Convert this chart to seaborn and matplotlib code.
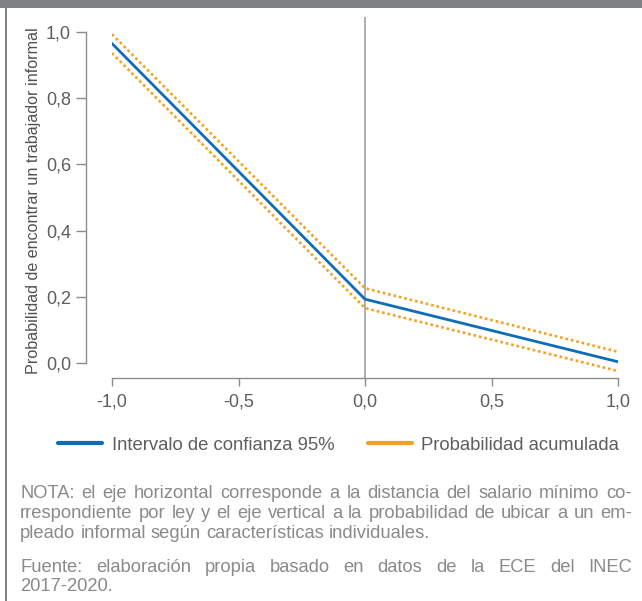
import numpy as np
import pandas as pd
import seaborn as sns
import matplotlib.pyplot as plt
from matplotlib.lines import Line2D
from matplotlib.patches import Rectangle

# data
x_vals = [-1.0, 0.0, 1.0]
prob_acum = [0.965, 0.193, 0.004]
ic_sup = [0.993, 0.226, 0.034]
ic_inf = [0.936, 0.166, -0.024]

x_ticks = [-1.0, -0.5, 0.0, 0.5, 1.0]
x_ticklabels = ["-1,0", "-0,5", "0,0", "0,5", "1,0"]
y_ticks = [0.0, 0.2, 0.4, 0.6, 0.8, 1.0]
y_ticklabels = ["0,0", "0,2", "0,4", "0,6", "0,8", "1,0"]

legend_labels = ["Intervalo de confianza 95%", "Probabilidad acumulada"]
ylabel = "Probabilidad de encontrar un trabajador informal"
nota = [
    "NOTA: el eje horizontal corresponde a la distancia del salario mínimo co-",
    "rrespondiente por ley y el eje vertical a la probabilidad de ubicar a un em-",
    "pleado informal según características individuales.",
]
fuente = [
    "Fuente: elaboración propia basado en datos de la ECE del INEC",
    "2017-2020.",
]

df = pd.DataFrame({"x": x_vals, "prob": prob_acum, "sup": ic_sup, "inf": ic_inf})

sns.set_theme(style="white")
plt.rcParams["font.family"] = ["Liberation Sans", "DejaVu Sans"]

BLUE = "#0f6cb6"
ORANGE = "#f8a01c"
GRAY = "#808285"
TXT = "#5e5e5e"

W, H = 642, 601
fig = plt.figure(figsize=(W / 100, H / 100), dpi=100)
fig.patch.set_facecolor("white")

# frame decoration: top bar + left rule
fig.add_artist(Rectangle((0, 1 - 8 / H), 1, 8 / H, transform=fig.transFigure,
                         color=GRAY, lw=0))
fig.add_artist(Rectangle((5 / W, 0), 2 / W, 1, transform=fig.transFigure,
                         color=GRAY, lw=0))

ax = fig.add_axes([112 / W, (H - 378) / H, 506 / W, 361 / H])
ax.set_facecolor("white")

ax.axvline(0, color="#a8a8a8", lw=1.3, zorder=1)
sns.lineplot(data=df, x="x", y="sup", ax=ax, color=ORANGE, lw=1.9,
             linestyle=(0, (1, 1.1)), legend=False, zorder=2)
sns.lineplot(data=df, x="x", y="inf", ax=ax, color=ORANGE, lw=1.9,
             linestyle=(0, (1, 1.1)), legend=False, zorder=2)
sns.lineplot(data=df, x="x", y="prob", ax=ax, color=BLUE, lw=2.0,
             legend=False, zorder=3)

ax.set_xlim(-1, 1)
ax.set_ylim(-0.045, 1.045)
ax.set_xticks(x_ticks)
ax.set_xticklabels(x_ticklabels)
ax.set_yticks(y_ticks)
ax.set_yticklabels(y_ticklabels)
ax.set_xlabel("")
ax.set_ylabel(ylabel, fontsize=11.6, color="#505050")
ax.yaxis.set_label_coords((41 - 112) / 506, 0.49)

for s in ["top", "right"]:
    ax.spines[s].set_visible(False)
ax.spines["left"].set_position(("outward", 19))
ax.spines["left"].set_bounds(0, 1)
ax.spines["bottom"].set_bounds(-1, 1)
for s in ["left", "bottom"]:
    ax.spines[s].set_color("#8c8c8c")
    ax.spines[s].set_linewidth(1.0)

ax.tick_params(axis="y", left=True, length=7.5, width=1, color="#8c8c8c",
               labelsize=13, labelcolor=TXT, pad=3)
ax.tick_params(axis="x", bottom=True, length=6, width=1, color="#8c8c8c",
               labelsize=13, labelcolor=TXT, pad=5)

handles = [Line2D([], [], color=BLUE, lw=3), Line2D([], [], color=ORANGE, lw=3)]
fig.legend(handles, legend_labels, loc="center", ncol=2, frameon=False,
           bbox_to_anchor=(338.5 / W, 1 - 445 / H), fontsize=13.3,
           handlelength=2.4, handletextpad=0.5, columnspacing=1.8,
           labelcolor=TXT)

# justified notes below the chart
renderer = fig.canvas.get_renderer()
SIZE = 13.2


def text_w(s, size):
    t = fig.text(0, 0, s, fontsize=size)
    w = t.get_window_extent(renderer).width
    t.remove()
    return w


def put_line(line, y, justify, x0=20, x1=632, size=SIZE, color="#8a8a8a"):
    words = line.split(" ")
    widths = [text_w(w, size) for w in words]
    space = text_w("a a", size) - text_w("aa", size)
    if justify and len(words) > 1:
        gap = (x1 - x0 - sum(widths)) / (len(words) - 1)
    else:
        gap = space
    x = x0
    for w, wd in zip(words, widths):
        fig.text(x / W, 1 - (y + 5) / H, w, fontsize=size, color=color,
                 va="baseline", ha="left")
        x += wd + gap


for i, (line, y) in enumerate(zip(nota, [493, 513, 533])):
    put_line(line, y, justify=i < len(nota) - 1)
for i, (line, y) in enumerate(zip(fuente, [567, 586])):
    put_line(line, y, justify=i < len(fuente) - 1)

fig.savefig("out.png", dpi=100)
